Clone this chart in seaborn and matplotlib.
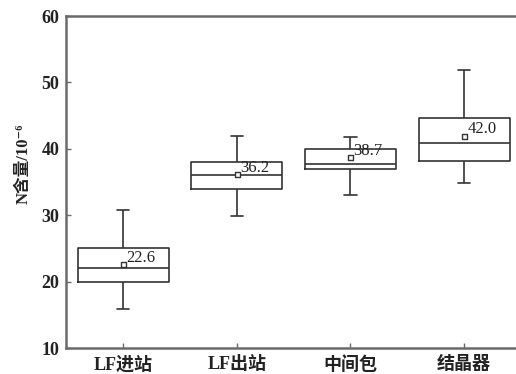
import numpy as np
import pandas as pd
import matplotlib
matplotlib.use("Agg")
import matplotlib.pyplot as plt
import seaborn as sns

# Sampling stations along the process route
sites = ["LF进站", "LF出站", "中间包", "结晶器"]

# Box statistics of N content (10^-6) at each station
whisker_low = [15.9, 29.9, 33.0, 34.9]
q1 = [20.0, 34.0, 37.0, 38.2]
median = [22.0, 36.0, 37.7, 40.8]
q3 = [25.1, 38.0, 40.0, 44.7]
whisker_high = [30.8, 41.9, 41.8, 51.8]
means = [22.6, 36.2, 38.7, 42.0]

y_ticks = [10, 20, 30, 40, 50, 60]

# Long-form table: five summary points per station give the box exactly
rows = []
for i, s in enumerate(sites):
    for v in (whisker_low[i], q1[i], median[i], q3[i], whisker_high[i]):
        rows.append({"site": s, "N": v})
df = pd.DataFrame(rows)

sns.set_style("ticks")
serif_cjk = ["Liberation Serif", "Noto Sans CJK SC", "DejaVu Serif"]
plt.rcParams["font.family"] = serif_cjk

line_c = "#333333"
spine_c = "#6a6a6a"
text_c = "#222222"

fig = plt.figure(figsize=(5.16, 3.74), dpi=100)
ax = fig.add_axes([0.1283, 0.0695, 0.8814, 0.8877])

sns.boxplot(
    data=df, x="site", y="N", order=sites, ax=ax,
    whis=(0, 100), width=0.8, fill=False, color=line_c, linecolor=line_c,
    linewidth=1.2, showfliers=False, capwidths=0.11,
)

sns.stripplot(
    x=sites, y=means, order=sites, ax=ax, jitter=False,
    marker="s", size=3.6, color="white", edgecolor=line_c, linewidth=1.0,
    zorder=5,
)

for i, m in enumerate(means):
    ax.annotate(f"{m:.1f}", xy=(i, m), xytext=(2.2, 1.8),
                textcoords="offset points", ha="left", va="baseline",
                fontsize=12, color=text_c, family=serif_cjk)

ax.set_xlim(-0.5, 3.5)
ax.set_ylim(10, 60)
ax.set_yticks(y_ticks)
ax.set_yticklabels([str(t) for t in y_ticks], fontsize=13, fontweight="bold",
                   color=text_c)
ax.set_xticks(range(len(sites)))
ax.set_xticklabels(sites, fontsize=13, fontweight="bold", color=text_c)
ax.set_xlabel("")
ax.set_ylabel("N含量/10⁻⁶", fontsize=12, fontweight="bold", color=text_c)
ax.yaxis.set_label_coords(-0.075, 0.554)

ax.tick_params(axis="both", direction="in", length=3.5, width=1.0,
               color=spine_c, pad=5)
ax.tick_params(axis="x", pad=6)
ax.tick_params(right=False, top=False)

for side in ("left", "bottom", "top", "right"):
    ax.spines[side].set_color(spine_c)
    ax.spines[side].set_linewidth(1.8)
    ax.spines[side].set_visible(True)

fig.savefig("out.png", dpi=100)
